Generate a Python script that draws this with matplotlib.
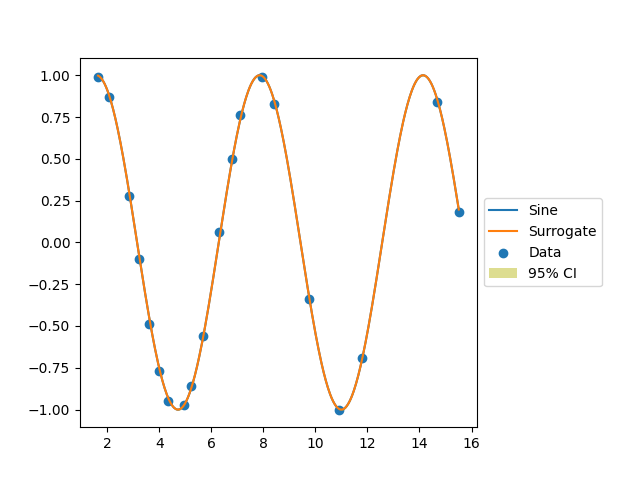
import numpy as np
import matplotlib
matplotlib.use("Agg")
import matplotlib.pyplot as plt

# sample points
x_data = [1.64, 2.07, 2.83, 3.22, 3.60, 3.99, 4.33, 4.95, 5.21, 5.67,
          6.29, 6.79, 7.10, 7.95, 8.41, 9.75, 10.90, 11.79, 14.67, 15.51]
y_data = [0.99, 0.87, 0.28, -0.10, -0.49, -0.77, -0.95, -0.97, -0.86, -0.56,
          0.06, 0.50, 0.76, 0.99, 0.83, -0.34, -1.00, -0.69, 0.84, 0.18]

ci_halfwidth = 0.005                                            # band is barely visible in the picture

x = np.linspace(min(x_data), max(x_data), 500)                  # grid for the smooth curves
y_true = np.sin(x)                                              # the "Sine" series
y_surr = np.sin(x)                                              # surrogate sits right on top of it

fig, ax = plt.subplots(figsize=(6.4, 4.8), dpi=100)
ax.plot(x, y_true, label="Sine")
ax.plot(x, y_surr, label="Surrogate")
ax.scatter(x_data, y_data, label="Data")
ax.fill_between(x, y_surr - ci_halfwidth, y_surr + ci_halfwidth,
                color="tab:olive", alpha=0.5, linewidth=0, label="95% CI")

box = ax.get_position()                                         # shrink to leave room for the legend
ax.set_position([box.x0, box.y0, box.width * 0.8, box.height])
ax.legend(loc="center left", bbox_to_anchor=(1, 0.5))

fig.savefig("out.png")
